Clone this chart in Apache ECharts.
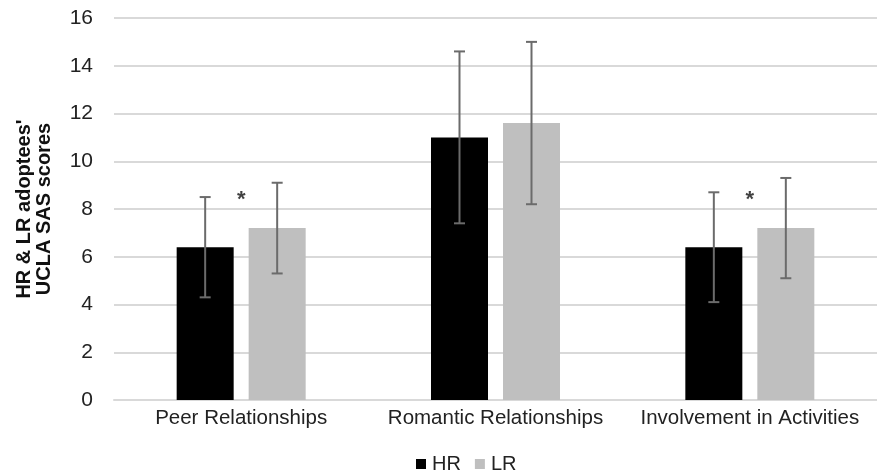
<!DOCTYPE html>
<html>
<head>
<meta charset="utf-8">
<script src="https://cdn.jsdelivr.net/npm/echarts@6/dist/echarts.min.js"></script>
<style>
html,body{margin:0;padding:0;background:#fff;}
#chart{width:877px;height:474px;}
</style>
</head>
<body>
<div id="chart"></div>
<script>
var categories = ['Peer Relationships', 'Romantic Relationships', 'Involvement in Activities'];
var seriesNames = ['HR', 'LR'];
var hrValues = [6.4, 11.0, 6.4];
var lrValues = [7.2, 11.6, 7.2];
var hrErrors = [2.1, 3.6, 2.3];
var lrErrors = [1.9, 3.4, 2.1];
var starCategories = [0, 2];
var starValues = [8.4, 8.4];
var yTicks = [0, 2, 4, 6, 8, 10, 12, 14, 16];

var BAR_W = 57, BAR_GAP = 15;
var offset = (BAR_W + BAR_GAP) / 2;

function errData(vals, errs) {
  return vals.map(function (v, i) { return [i, v - errs[i], v + errs[i]]; });
}

function errSeries(data, dx) {
  return {
    type: 'custom',
    silent: true,
    z: 5,
    data: data,
    encode: { x: 0, y: [1, 2] },
    renderItem: function (params, api) {
      var lo = api.coord([api.value(0), api.value(1)]);
      var hi = api.coord([api.value(0), api.value(2)]);
      var x = lo[0] + dx;
      var cap = 5.5;
      var st = { stroke: '#6b6b6b', lineWidth: 2 };
      return {
        type: 'group',
        children: [
          { type: 'line', shape: { x1: x, y1: hi[1], x2: x, y2: lo[1] }, style: st },
          { type: 'line', shape: { x1: x - cap, y1: hi[1], x2: x + cap, y2: hi[1] }, style: st },
          { type: 'line', shape: { x1: x - cap, y1: lo[1], x2: x + cap, y2: lo[1] }, style: st }
        ]
      };
    }
  };
}

var chart = echarts.init(document.getElementById('chart'));
chart.setOption({
  animation: false,
  textStyle: { fontFamily: 'Liberation Sans, Arial, sans-serif' },
  grid: { left: 114, right: 0, top: 18, bottom: 74 },
  legend: {
    data: seriesNames,
    top: 449,
    left: 411,
    icon: 'rect',
    itemWidth: 10,
    itemHeight: 10,
    itemGap: 14,
    textStyle: { fontSize: 20, color: '#222', padding: [0, 0, 0, 1] }
  },
  xAxis: {
    type: 'category',
    data: categories,
    axisTick: { show: false },
    axisLine: { lineStyle: { color: '#d9d9d9', width: 2 } },
    axisLabel: { fontSize: 20.5, color: '#222', margin: 8, interval: 0 }
  },
  yAxis: {
    type: 'value',
    min: yTicks[0],
    max: yTicks[yTicks.length - 1],
    interval: 2,
    name: "HR & LR adoptees'\nUCLA SAS scores",
    nameLocation: 'middle',
    nameGap: 60,
    nameTextStyle: { fontSize: 20, fontWeight: 'bold', color: '#111', lineHeight: 20 },
    axisLine: { show: false },
    axisTick: { show: false },
    axisLabel: { fontSize: 21, color: '#222', margin: 21 },
    splitLine: { lineStyle: { color: '#d9d9d9', width: 2 } }
  },
  series: [
    { name: 'HR', type: 'bar', data: hrValues, barWidth: BAR_W, barGap: (BAR_GAP / BAR_W * 100) + '%', itemStyle: { color: '#000000' } },
    { name: 'LR', type: 'bar', data: lrValues, barWidth: BAR_W, itemStyle: { color: '#bfbfbf' } },
    errSeries(errData(hrValues, hrErrors), -offset),
    errSeries(errData(lrValues, lrErrors), offset),
    {
      type: 'scatter',
      silent: true,
      symbolSize: 0,
      data: starCategories.map(function (c, i) { return [c, starValues[i]]; }),
      label: { show: true, position: 'inside', formatter: '*', fontSize: 22, fontWeight: 'bold', color: '#111' },
      z: 6
    }
  ]
});
</script>
</body>
</html>
